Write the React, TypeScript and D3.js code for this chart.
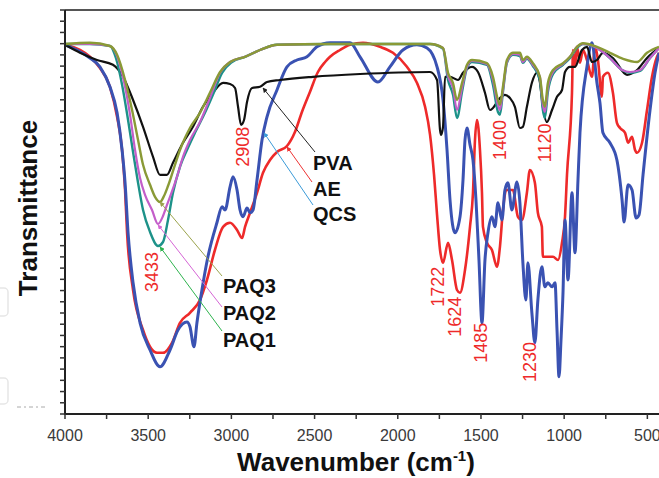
import React from "react";
import * as d3 from "d3";

type P = [number, number];

// Wavenumber (cm-1), transmittance (a.u.)
const AE: P[] = [[4000,92.3],[3910,91.0],[3850,89.3],[3790,86.5],[3730,81.8],[3687,74.3],[3657,66.0],[3639,56.0],[3627,45.3],[3591,31.0],[3531,21.0],[3447,15.3],[3411,15.3],[3357,17.8],[3309,22.8],[3249,25.3],[3189,28.5],[3147,33.5],[3099,41.0],[3050,46.8],[3008,47.8],[2966,46.0],[2936,44.0],[2918,46.8],[2888,50.3],[2846,55.3],[2810,60.3],[2768,63.5],[2726,65.5],[2666,67.0],[2618,70.5],[2576,75.5],[2528,80.5],[2480,85.5],[2437,88.0],[2407,89.3],[2347,91.0],[2287,92.3],[2209,92.8],[2107,91.8],[2029,90.3],[1945,86.8],[1885,82.8],[1836,76.8],[1806,69.8],[1782,59.8],[1764,49.8],[1746,41.0],[1728,37.8],[1698,42.8],[1674,38.5],[1644,31.0],[1626,30.3],[1596,36.0],[1566,46.8],[1548,55.3],[1536,68.5],[1524,73.5],[1506,66.0],[1494,55.3],[1488,46.8],[1464,42.8],[1434,41.0],[1404,36.8],[1386,41.8],[1368,51.0],[1344,56.0],[1308,56.0],[1278,49.3],[1254,48.5],[1224,55.3],[1206,61.0],[1176,57.8],[1158,50.3],[1134,46.8],[1128,39.3],[1104,39.3],[1067,39.3],[1037,38.5],[1013,42.8],[995,49.3],[983,59.8],[953,80.3],[947,91.0],[935,86.8],[923,91.8],[905,87.8],[887,91.0],[863,88.5],[833,84.3],[815,91.8],[797,88.5],[773,79.3],[767,84.3],[737,85.3],[707,80.3],[683,72.8],[664,71.5],[634,70.3],[616,67.8],[592,69.3],[574,66.0],[562,65.3],[532,67.8],[502,76.0],[472,84.3],[442,89.3],[430,90.3]];

const QCS: P[] = [[4000,92.3],[3928,91.0],[3850,89.0],[3790,86.8],[3730,81.8],[3687,75.3],[3657,66.0],[3639,57.8],[3621,45.3],[3591,32.8],[3549,22.8],[3489,16.0],[3429,11.8],[3369,16.0],[3321,21.0],[3267,23.0],[3249,21.8],[3225,16.8],[3207,22.8],[3177,31.0],[3141,39.3],[3087,47.8],[3056,51.8],[3038,51.0],[3008,56.8],[2990,59.3],[2966,56.0],[2948,51.0],[2930,49.3],[2906,51.5],[2888,50.3],[2870,51.0],[2846,58.5],[2816,68.5],[2786,74.3],[2726,81.0],[2666,86.8],[2606,88.5],[2546,89.3],[2486,91.8],[2407,92.8],[2287,92.8],[2227,89.3],[2119,83.0],[2047,86.8],[1969,91.0],[1885,92.3],[1824,91.5],[1764,86.8],[1728,78.5],[1704,66.0],[1686,53.5],[1656,45.3],[1626,49.3],[1608,58.5],[1596,68.5],[1584,71.5],[1566,67.3],[1548,63.5],[1530,53.5],[1512,38.5],[1494,22.8],[1476,38.5],[1458,45.3],[1434,49.3],[1416,46.8],[1398,52.8],[1374,48.5],[1356,56.0],[1338,57.8],[1314,51.0],[1284,58.0],[1266,52.8],[1248,37.8],[1230,28.5],[1218,37.8],[1194,25.3],[1176,17.8],[1158,28.5],[1134,36.8],[1116,31.8],[1098,32.8],[1073,31.8],[1055,32.8],[1043,21.0],[1031,9.3],[1019,18.5],[1007,30.3],[995,48.5],[977,33.5],[953,55.3],[935,40.3],[917,58.5],[905,70.3],[863,86.8],[833,92.8],[803,82.8],[785,77.8],[767,70.3],[725,67.8],[683,63.5],[652,53.5],[640,48.0],[616,57.3],[592,56.0],[568,49.0],[550,49.8],[526,59.8],[484,76.0],[454,85.3],[430,90.3]];

const PVA: P[] = [[4000,92.3],[3910,90.3],[3808,88.5],[3712,87.3],[3651,84.3],[3591,78.5],[3531,71.8],[3471,64.3],[3429,59.8],[3387,59.8],[3351,62.8],[3291,67.8],[3231,71.8],[3171,76.8],[3111,80.3],[3050,82.8],[3008,82.5],[2978,81.5],[2960,76.8],[2942,72.3],[2924,73.5],[2906,78.0],[2876,81.5],[2828,81.8],[2786,83.0],[2708,83.5],[2510,84.3],[2227,85.0],[1806,85.5],[1764,83.5],[1746,71.0],[1740,69.8],[1728,71.8],[1716,84.3],[1686,84.3],[1638,83.5],[1608,85.3],[1554,86.8],[1518,85.5],[1476,80.3],[1446,76.0],[1428,76.5],[1386,79.0],[1356,79.8],[1326,79.0],[1296,76.8],[1266,71.5],[1248,71.8],[1224,76.8],[1194,82.8],[1164,85.3],[1146,83.0],[1128,76.8],[1104,73.0],[1073,76.0],[1043,79.3],[1013,81.0],[995,85.5],[965,86.8],[935,86.8],[893,91.0],[863,91.8],[833,88.0],[803,88.5],[767,90.3],[707,89.0],[622,84.8],[562,86.0],[502,89.0],[430,91.5]];

const PAQ1: P[] = [[4000,92.5],[3850,92.5],[3730,92.0],[3694,89.0],[3657,82.3],[3621,73.5],[3591,65.5],[3561,57.8],[3531,51.0],[3489,45.5],[3441,42.0],[3411,43.0],[3381,48.5],[3351,55.3],[3309,61.8],[3267,66.0],[3219,70.3],[3159,75.3],[3111,79.8],[3056,85.3],[2996,88.0],[2918,89.3],[2828,91.0],[2726,92.3],[2407,92.5],[1806,92.5],[1728,91.3],[1698,83.5],[1668,79.8],[1644,74.0],[1614,80.5],[1584,86.5],[1554,88.0],[1464,87.3],[1428,82.3],[1398,75.5],[1386,74.8],[1368,80.5],[1344,87.8],[1308,89.8],[1266,89.5],[1248,87.8],[1224,88.8],[1188,87.0],[1146,83.5],[1128,76.0],[1116,74.0],[1098,80.5],[1067,85.0],[1007,87.3],[965,89.0],[923,91.5],[887,92.5],[803,91.5],[725,89.0],[652,86.0],[604,85.3],[544,85.8],[484,89.0],[430,91.5]];

const PAQ2: P[] = [[4000,92.5],[3850,92.5],[3730,92.0],[3687,89.5],[3645,83.0],[3609,74.8],[3579,66.0],[3549,59.0],[3519,54.8],[3477,51.0],[3441,47.5],[3411,49.5],[3387,52.3],[3369,54.3],[3327,59.3],[3291,64.3],[3249,68.5],[3189,73.0],[3129,79.0],[3068,85.3],[3008,88.0],[2918,89.3],[2828,91.0],[2726,92.3],[2407,92.5],[1806,92.5],[1728,91.5],[1698,84.5],[1668,81.5],[1644,76.0],[1614,81.5],[1584,86.8],[1554,88.3],[1464,87.5],[1428,83.5],[1398,77.3],[1386,76.0],[1368,81.0],[1344,88.0],[1308,90.0],[1266,89.8],[1248,88.0],[1224,89.0],[1188,87.3],[1146,84.3],[1128,77.3],[1116,75.5],[1098,81.5],[1067,85.5],[1007,87.5],[965,89.3],[923,91.8],[887,92.5],[803,91.5],[725,89.0],[652,86.0],[604,85.5],[544,86.0],[484,89.0],[430,91.5]];

const PAQ3: P[] = [[4000,92.5],[3850,92.8],[3730,92.0],[3687,89.8],[3639,83.5],[3597,76.0],[3561,68.5],[3531,62.3],[3489,57.3],[3459,54.3],[3429,53.0],[3405,54.5],[3381,57.0],[3339,62.3],[3309,66.0],[3279,69.0],[3249,71.5],[3189,75.3],[3129,80.3],[3068,85.5],[3008,88.0],[2918,89.3],[2828,91.0],[2726,92.3],[2407,92.5],[1806,92.5],[1728,91.5],[1698,85.3],[1668,82.7],[1644,78.5],[1614,82.7],[1584,87.3],[1554,88.5],[1464,87.7],[1428,84.3],[1398,78.5],[1386,77.3],[1368,81.8],[1344,88.5],[1308,90.3],[1266,90.3],[1248,88.5],[1224,89.3],[1188,87.7],[1146,84.3],[1128,78.5],[1116,76.8],[1098,82.7],[1067,86.0],[1007,87.7],[965,89.3],[923,91.8],[887,92.7],[803,91.8],[725,90.3],[646,88.8],[562,88.0],[502,90.3],[430,91.8]];

const X_TICKS = [4000, 3500, 3000, 2500, 2000, 1500, 1000, 500];
const X_MINOR = [4000, 3750, 3500, 3250, 3000, 2750, 2500, 2250, 2000, 1750, 1500, 1250, 1000, 750, 500];

// peak annotations: label, wavenumber, transmittance (centre of rotated text)
const PEAK_LABELS = ["2908", "3433", "1400", "1120", "1722", "1624", "1485", "1230"];
const PEAK_W = [2930, 3480, 1386, 1116, 1758, 1656, 1500, 1206];
const PEAK_T = [66.8, 35.5, 68.5, 67.8, 31.8, 24.3, 17.8, 13.0];

// series labels with arrow tips (data coords)
const SERIES_NAMES = ["PVA", "AE", "QCS", "PAQ3", "PAQ2", "PAQ1"];
const TIP_W = [2810, 2666, 2804, 3429, 3441, 3429];
const TIP_T = [81.5, 66.8, 70.3, 53.0, 47.3, 41.8];

const COLORS: Record<string, string> = {
  AE: "#ee2a2a",
  QCS: "#3a52b2",
  PVA: "#111111",
  PAQ1: "#1d9289",
  PAQ2: "#c35ec9",
  PAQ3: "#8a9a36",
};
const ARROW_COLORS: Record<string, string> = {
  PVA: "#222222",
  AE: "#ee3333",
  QCS: "#3b9bd8",
  PAQ3: "#9aa34c",
  PAQ2: "#d565d5",
  PAQ1: "#2eb34e",
};

export default function App() {
  const W = 659, H = 478;
  const L = 65, T = 10, B = 414, R = 659;
  const x = d3.scaleLinear().domain([4000, 400]).range([L, 664]);
  const y = d3.scaleLinear().domain([0, 101]).range([B, T]);
  const line = d3
    .line<P>()
    .x((d) => x(d[0]))
    .y((d) => y(d[1]))
    .curve(d3.curveMonotoneX);

  const series: { name: string; data: P[]; w: number }[] = [
    { name: "AE", data: AE, w: 2.6 },
    { name: "QCS", data: QCS, w: 3 },
    { name: "PVA", data: PVA, w: 2.2 },
    { name: "PAQ1", data: PAQ1, w: 2.4 },
    { name: "PAQ2", data: PAQ2, w: 2.2 },
    { name: "PAQ3", data: PAQ3, w: 2.4 },
  ];

  const yTicks = d3.range(0, 37).map((i) => T + ((B - T) * i) / 36);

  // label layout (pixels)
  const labelPos: Record<string, [number, number]> = {
    PVA: [313, 170],
    AE: [313, 196],
    QCS: [313, 221],
    PAQ3: [223, 293],
    PAQ2: [223, 320],
    PAQ1: [223, 347],
  };
  const tailPos: Record<string, [number, number]> = {
    PVA: [315, 152],
    AE: [312, 182],
    QCS: [313, 205],
    PAQ3: [222, 276],
    PAQ2: [222, 307],
    PAQ1: [222, 331],
  };

  const font = "'Liberation Sans', Arial, sans-serif";

  return (
    <svg
      width={W}
      height={H}
      style={{ position: "absolute", left: 0, top: 0, background: "#fff" }}
      fontFamily={font}
    >
      <rect x={0} y={0} width={W} height={H} fill="#fff" />
      {/* faint artifacts on left */}
      <rect x={-6} y={288} width={14} height={28} rx={4} fill="none" stroke="#e6e6e6" strokeWidth={1.5} />
      <rect x={-6} y={378} width={14} height={26} rx={4} fill="none" stroke="#e6e6e6" strokeWidth={1.5} />
      <line x1={17} x2={47} y1={407} y2={407} stroke="#aaa" strokeWidth={1} strokeDasharray="4 3 2 3" />

      <defs>
        <clipPath id="plotclip">
          <rect x={L} y={T} width={R - L} height={B - T} />
        </clipPath>
        {SERIES_NAMES.map((n) => (
          <marker
            key={n}
            id={"arr-" + n}
            viewBox="0 0 10 10"
            refX={9}
            refY={5}
            markerWidth={5}
            markerHeight={5}
            orient="auto"
          >
            <path d="M0,0 L10,5 L0,10 z" fill={ARROW_COLORS[n]} />
          </marker>
        ))}
      </defs>

      <g clipPath="url(#plotclip)">
        {series.map((s) => (
          <path
            key={s.name}
            d={line(s.data) || ""}
            fill="none"
            stroke={COLORS[s.name]}
            strokeWidth={s.w}
            strokeLinejoin="round"
          />
        ))}
      </g>

      {/* axes */}
      <line x1={L} x2={R} y1={T} y2={T} stroke="#555" strokeWidth={2} />
      <line x1={L} x2={L} y1={T} y2={B} stroke="#222" strokeWidth={2} />
      <line x1={L - 1} x2={R} y1={B} y2={B} stroke="#222" strokeWidth={2} />
      {yTicks.map((ty, i) => (
        <line key={i} x1={L - 5} x2={L} y1={ty} y2={ty} stroke="#333" strokeWidth={1.5} />
      ))}
      {X_MINOR.map((v) => (
        <line key={v} x1={x(v)} x2={x(v)} y1={B} y2={B + 5} stroke="#333" strokeWidth={1.5} />
      ))}
      {X_TICKS.map((v) => (
        <text key={v} x={x(v)} y={441} textAnchor="middle" fontSize={16} fill="#3a3a3a">
          {v}
        </text>
      ))}

      {/* axis titles */}
      <text x={356} y={471} textAnchor="middle" fontSize={26} fontWeight="bold" fill="#111">
        Wavenumber (cm
        <tspan fontSize={15} dy={-10}>-1</tspan>
        <tspan dy={10}>)</tspan>
      </text>
      <text
        transform={`translate(37,208) rotate(-90)`}
        textAnchor="middle"
        fontSize={26}
        fontWeight="bold"
        fill="#111"
      >
        Transmittance
      </text>

      {/* peak labels */}
      {PEAK_LABELS.map((lab, i) => (
        <text
          key={lab}
          transform={`translate(${x(PEAK_W[i])},${y(PEAK_T[i])}) rotate(-90)`}
          textAnchor="middle"
          dominantBaseline="central"
          fontSize={18}
          fill="#ee2a2a"
        >
          {lab}
        </text>
      ))}

      {/* series labels and arrows */}
      {SERIES_NAMES.map((n, i) => (
        <g key={n}>
          <line
            x1={tailPos[n][0]}
            y1={tailPos[n][1]}
            x2={x(TIP_W[i])}
            y2={y(TIP_T[i])}
            stroke={ARROW_COLORS[n]}
            strokeWidth={1}
            markerEnd={`url(#arr-${n})`}
          />
          <text x={labelPos[n][0]} y={labelPos[n][1]} fontSize={20} fontWeight="bold" fill="#111">
            {n}
          </text>
        </g>
      ))}
    </svg>
  );
}
